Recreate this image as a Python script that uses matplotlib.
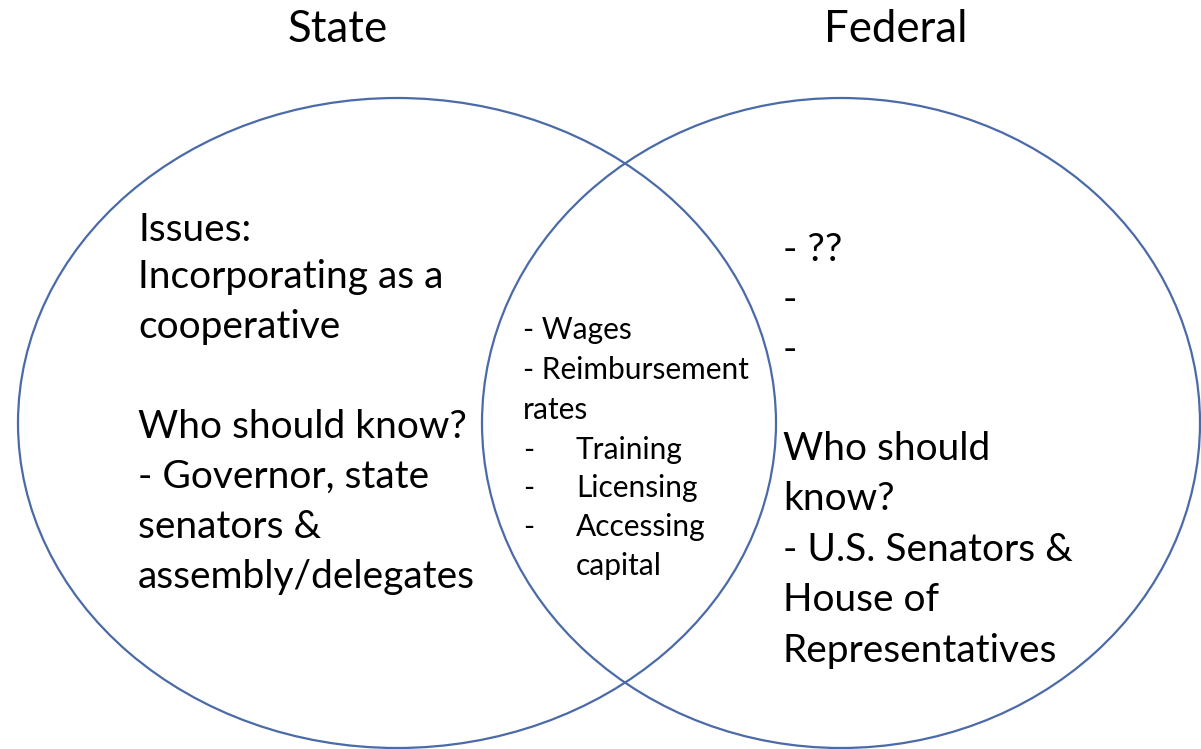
import matplotlib.pyplot as plt
from matplotlib.patches import Ellipse

plt.rcParams['font.family'] = ['Lato', 'DejaVu Sans']

# circles: (center x, center y, width, height) in pixel space of the picture
circles = [(397, 423, 758, 650), (841, 423, 718, 650)]
line_color = '#4a6aa8'

titles = ["State", "Federal"]
title_x = [338, 896]
title_y = 30

left_lines = ["Issues:", "Incorporating as a", "cooperative", "",
              "Who should know?", "- Governor, state", "senators &",
              "assembly/delegates"]
left_y = [230, 277, 327, 377, 427, 477, 527, 577]

right_lines = ["- ??", "-", "-", "", "Who should", "know?",
               "- U.S. Senators &", "House of", "Representatives"]
right_y = [250, 300, 350, 400, 449, 499, 550, 600, 651]

mid_dash = ["- Wages", "- Reimbursement", "rates", "-", "-", "-", ""]
mid_items = ["", "", "", "Training", "Licensing", "Accessing", "capital"]
mid_y = [330, 370, 410, 450, 488, 527, 566]

fig = plt.figure(figsize=(12.01, 7.49), dpi=100)
ax = fig.add_axes([0, 0, 1, 1])
ax.set_xlim(0, 1201)
ax.set_ylim(749, 0)
ax.axis('off')

for cx, cy, w, h in circles:
    ax.add_patch(Ellipse((cx, cy), w, h, fill=False, edgecolor=line_color, linewidth=1.6))

for t, x in zip(titles, title_x):
    ax.text(x, title_y, t, fontsize=31.5, ha='center', va='center')

for t, y in zip(left_lines, left_y):
    ax.text(138, y, t, fontsize=28, va='center')

for t, y in zip(right_lines, right_y):
    ax.text(783, y, t, fontsize=28, va='center')

for a, b, y in zip(mid_dash, mid_items, mid_y):
    ax.text(523, y, a, fontsize=21.5, va='center')
    ax.text(576, y, b, fontsize=21.5, va='center')

fig.savefig('out.png', dpi=100)
